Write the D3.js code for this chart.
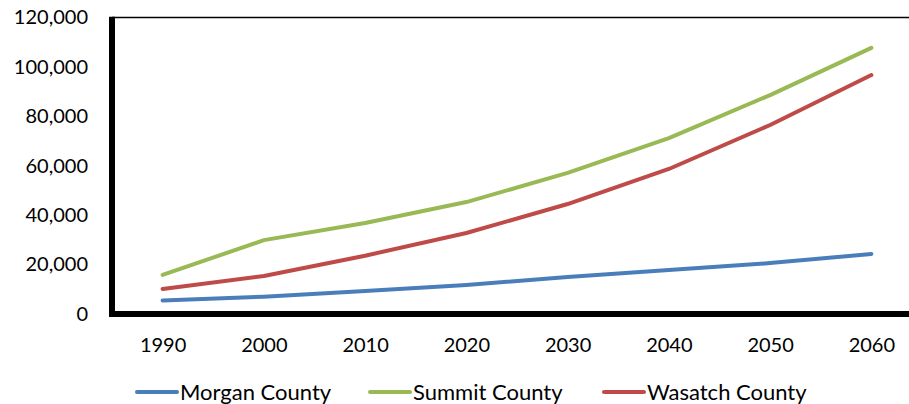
<!DOCTYPE html>
<html>
<head>
<meta charset="utf-8">
<script src="https://cdn.jsdelivr.net/npm/d3@7"></script>
<style>
  body { margin: 0; background: #fff; }
  text { font-family: Lato, "Open Sans", sans-serif; fill: #000; }
</style>
</head>
<body>
<script>
var width = 909, height = 404;

var years = ["1990", "2000", "2010", "2020", "2030", "2040", "2050", "2060"];
var morgan = [5500, 7000, 9300, 11700, 15000, 17800, 20600, 24300];
var summit = [15800, 29900, 36800, 45300, 57100, 71200, 88600, 107700];
var wasatch = [10100, 15400, 23600, 32800, 44500, 58700, 76500, 96700];
var yTicks = [0, 20000, 40000, 60000, 80000, 100000, 120000];

var series = [
  { name: "Morgan County", values: morgan, color: "#4a7ebb" },
  { name: "Summit County", values: summit, color: "#98b954" },
  { name: "Wasatch County", values: wasatch, color: "#be4b48" }
];

var svg = d3.select("body").append("svg")
    .attr("width", width)
    .attr("height", height);

// plot area edges (note: "top" is reserved on window)
var plotL = 112, plotR = 922, plotT = 17.5, plotB = 314;

var x = d3.scalePoint().domain(years).range([plotL, plotR]).padding(0.5);
var y = d3.scaleLinear().domain([0, 120000]).range([plotB, plotT]);

// plot frame: thin top, thick left and bottom
svg.append("line")
    .attr("x1", plotL).attr("x2", width).attr("y1", plotT).attr("y2", plotT)
    .attr("stroke", "#000").attr("stroke-width", 1.5);
svg.append("line")
    .attr("x1", plotL).attr("x2", plotL).attr("y1", plotT - 0.75).attr("y2", plotB + 3)
    .attr("stroke", "#000").attr("stroke-width", 6);
svg.append("line")
    .attr("x1", plotL - 3).attr("x2", width).attr("y1", plotB).attr("y2", plotB)
    .attr("stroke", "#000").attr("stroke-width", 6);

// y axis labels
var yAxis = svg.append("g")
    .attr("transform", "translate(" + (plotL - 24) + ",0)")
    .call(d3.axisLeft(y).tickValues(yTicks).tickFormat(d3.format(",")).tickSize(0));
yAxis.select(".domain").remove();
yAxis.selectAll("text")
    .attr("x", 0)
    .style("font-size", "20px")
    .style("font-family", "Lato, 'Open Sans', sans-serif");

// x axis labels
var xAxis = svg.append("g")
    .attr("transform", "translate(0," + (plotB + 24) + ")")
    .call(d3.axisBottom(x).tickSize(0));
xAxis.select(".domain").remove();
xAxis.selectAll("text")
    .attr("y", 0)
    .attr("dy", "0.71em")
    .style("font-size", "20px")
    .style("font-family", "Lato, 'Open Sans', sans-serif");

var line = d3.line()
    .x(function(d, i) { return x(years[i]); })
    .y(function(d) { return y(d); });

svg.selectAll(".series")
    .data(series)
  .enter().append("path")
    .attr("class", "series")
    .attr("fill", "none")
    .attr("stroke", function(d) { return d.color; })
    .attr("stroke-width", 4)
    .attr("stroke-linecap", "round")
    .attr("stroke-linejoin", "round")
    .attr("d", function(d) { return line(d.values); });

// legend
var legendX = [137, 370, 604];
var legend = svg.selectAll(".legend")
    .data(series)
  .enter().append("g")
    .attr("class", "legend")
    .attr("transform", function(d, i) { return "translate(" + legendX[i] + ",392)"; });

legend.append("line")
    .attr("x1", 0).attr("x2", 40)
    .attr("stroke", function(d) { return d.color; })
    .attr("stroke-width", 4)
    .attr("stroke-linecap", "round");

legend.append("text")
    .attr("x", 43)
    .attr("dy", "0.36em")
    .style("font-size", "22px")
    .text(function(d) { return d.name; });
</script>
</body>
</html>
